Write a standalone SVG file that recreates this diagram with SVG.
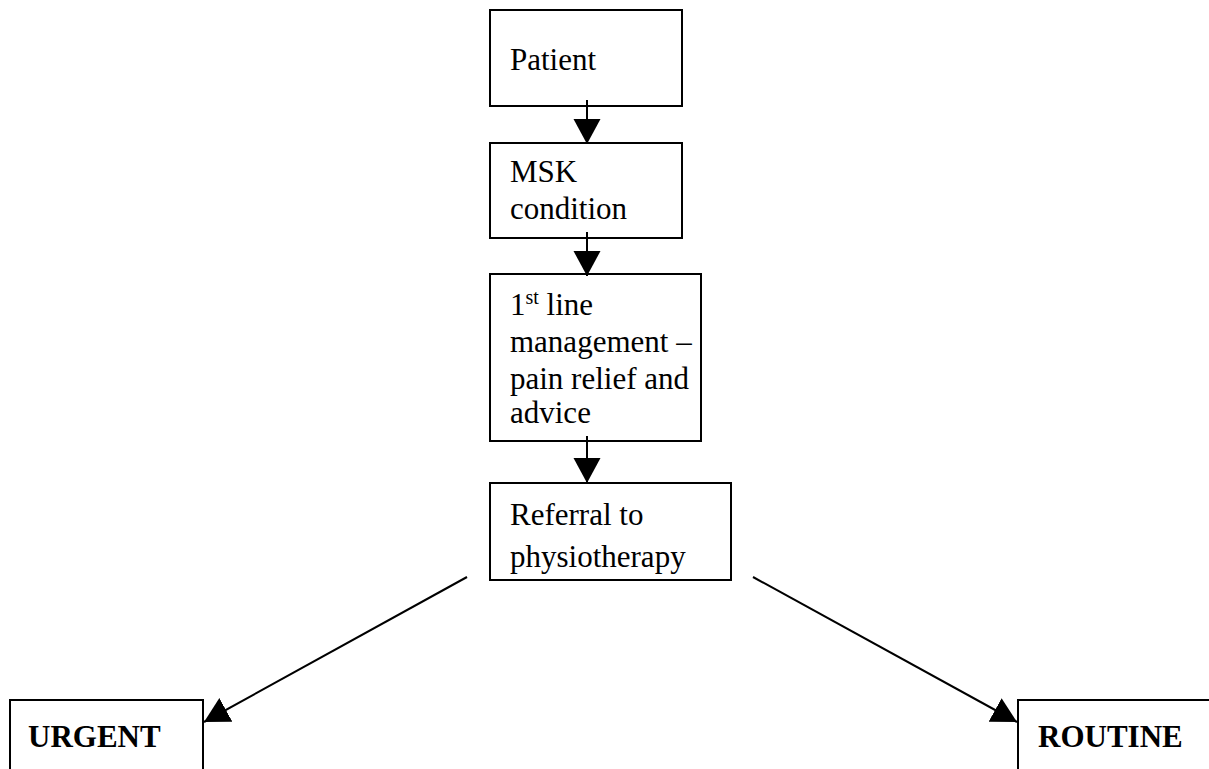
<svg xmlns="http://www.w3.org/2000/svg" width="1209" height="769" viewBox="0 0 1209 769">
<style>
.box{fill:#fff;stroke:#000;stroke-width:2}
.t{font-family:"Liberation Serif","Times New Roman",serif;font-size:31px;fill:#000}
.b{font-weight:bold}
.c{stroke:#000;stroke-width:2;fill:none}
</style>
<defs>
<marker id="ah" markerUnits="userSpaceOnUse" markerWidth="26" markerHeight="28" refX="25" refY="13.5" orient="auto" viewBox="0 0 26 28">
<path d="M0,0 L25,13.5 L0,27 z" fill="#000"/>
</marker>
</defs>
<rect width="1209" height="769" fill="#fff"/>
<g id="patient">
<rect class="box" x="490" y="10" width="192" height="96"/>
<text class="t" x="510" y="70">Patient</text>
</g>
<g id="msk">
<rect class="box" x="490" y="143" width="192" height="95"/>
<text class="t" x="510" y="182">MSK</text>
<text class="t" x="510" y="219">condition</text>
</g>
<g id="firstline">
<rect class="box" x="490" y="274" width="211" height="167"/>
<text class="t" x="510" y="315">1<tspan font-size="20" dy="-11">st</tspan><tspan dy="11"> line</tspan></text>
<text class="t" x="510" y="352">management –</text>
<text class="t" x="510" y="389">pain relief and</text>
<text class="t" x="510" y="423">advice</text>
</g>
<g id="referral">
<rect class="box" x="490" y="483" width="241" height="97"/>
<text class="t" x="510" y="525">Referral to</text>
<text class="t" x="510" y="567">physiotherapy</text>
</g>
<g id="urgent">
<rect class="box" x="10" y="700" width="193" height="90"/>
<text class="t b" x="28" y="747">URGENT</text>
</g>
<g id="routine">
<rect class="box" x="1018" y="700" width="220" height="90"/>
<text class="t b" x="1038" y="747">ROUTINE</text>
</g>
<g id="connectors">
<line class="c" x1="587" y1="100" x2="587" y2="144" marker-end="url(#ah)"/>
<line class="c" x1="587" y1="232" x2="587" y2="276" marker-end="url(#ah)"/>
<line class="c" x1="587" y1="436" x2="587" y2="483" marker-end="url(#ah)"/>
<line class="c" x1="467" y1="577" x2="204" y2="722" marker-end="url(#ah)"/>
<line class="c" x1="753" y1="577" x2="1017" y2="722" marker-end="url(#ah)"/>
</g>
</svg>
